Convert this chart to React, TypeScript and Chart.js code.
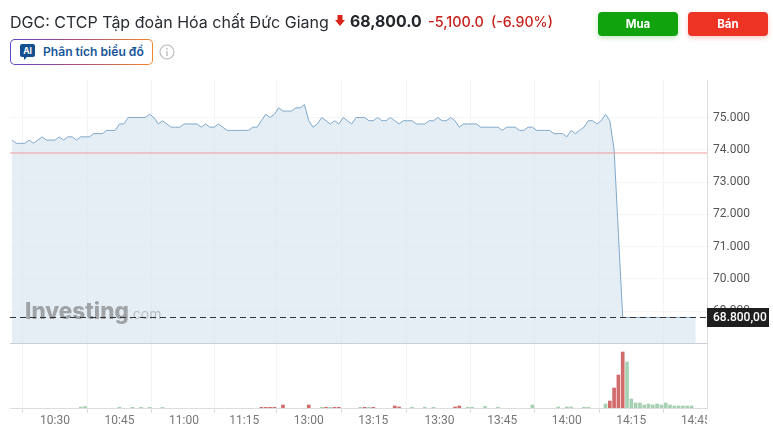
import React, { useEffect, useRef } from "react";
import { Chart, registerables } from "chart.js";

Chart.register(...registerables);

const priceValues = [
  74300, 74200, 74200, 74200, 74300, 74200, 74300, 74400, 74300, 74300,
  74300, 74400, 74300, 74400, 74400, 74300, 74400, 74400, 74400, 74500,
  74500, 74500, 74600, 74600, 74600, 74800, 74800, 75000, 75000, 75000,
  75000, 75000, 75100, 75000, 74800, 74900, 74800, 74700, 74700, 74700,
  74800, 74800, 74800, 74800, 74700, 74800, 74700, 74700, 74800, 74700,
  74600, 74600, 74600, 74600, 74600, 74600, 74700, 74700, 74900, 75100,
  75000, 75100, 75300, 75200, 75200, 75200, 75300, 75300, 75400, 74900,
  74700, 74800, 75000, 74900, 74800, 74900, 74800, 75000, 74900, 74800,
  75000, 75000, 75000, 74900, 74900, 75000, 74900, 74900, 75000, 74900,
  74800, 74900, 74900, 74900, 74800, 74800, 74800, 74900, 74900, 75000,
  74900, 74900, 75000, 74900, 74700, 74800, 74800, 74800, 74800, 74700,
  74700, 74700, 74700, 74700, 74600, 74700, 74700, 74700, 74600, 74600,
  74700, 74700, 74600, 74600, 74600, 74600, 74500, 74500, 74500, 74400,
  74600, 74500, 74600, 74700, 74900, 74900, 74800, 74900, 75100, 74900,
  74000, 71400, 68800, 68800, 68800, 68800, 68800, 68800, 68800, 68800,
  68800, 68800, 68800, 68800, 68800, 68800, 68800, 68800, 68800, 68800,
];

const upVolume: [number, number][] = [
  [16, 1], [17, 1.5], [25, 0.8], [28, 0.7], [30, 0.7], [32, 0.7], [35, 0.6],
  [72, 0.7], [74, 0.7], [81, 0.7], [83, 0.7], [93, 0.8], [96, 0.7], [98, 0.7],
  [106, 0.8], [107, 0.8], [110, 1.5], [113, 0.8], [121, 3], [127, 1], [129, 1],
  [130, 1], [133, 0.8], [134, 0.8], [138, 4], [143, 46], [144, 9], [145, 5],
  [146, 5], [147, 3], [148, 4], [149, 3], [150, 4], [151, 3], [152, 5],
  [153, 3], [154, 2], [155, 2], [156, 2], [157, 2], [158, 2],
];
const downVolume: [number, number][] = [
  [58, 0.7], [59, 0.7], [60, 0.7], [61, 0.7], [63, 3], [69, 3], [73, 0.7],
  [75, 0.7], [76, 0.7], [82, 0.7], [84, 0.7], [89, 2], [90, 1], [103, 1],
  [104, 2], [139, 7], [140, 20], [141, 33], [142, 56],
];

const timeTickIndexes = [10, 25, 40, 54, 69, 84, 99.4, 114, 129, 144, 159];
const timeTickLabels = ["10:30", "10:45", "11:00", "11:15", "13:00", "13:15", "13:30", "13:45", "14:00", "14:15", "14:45"];
const priceTicks = [69000, 70000, 71000, 72000, 73000, 74000, 75000];
const previousClose = 73900;
const lastPrice = 68800;

const fontName = "Inter, 'Noto Sans', sans-serif";

const overlay = {
  id: "overlay",
  afterDatasetDraw(chart: any, args: any) {
    if (args.index !== 0) return;
    const { ctx } = chart;
    ctx.save();
    ctx.textBaseline = "alphabetic";
    ctx.fillStyle = "rgba(125,125,125,0.66)";
    ctx.font = "800 22.5px Inter, sans-serif";
    ctx.fillText("Investing", 25, 319);
    const w = ctx.measureText("Investing").width;
    ctx.fillStyle = "rgba(150,150,150,0.55)";
    ctx.font = "400 14px Inter, sans-serif";
    ctx.fillText(".com", 25 + w, 319);
    ctx.restore();
  },
  afterDraw(chart: any) {
    const { ctx, chartArea, scales } = chart;
    ctx.save();
    // section divider
    ctx.strokeStyle = "#c9ced6";
    ctx.lineWidth = 1;
    ctx.beginPath();
    ctx.moveTo(chartArea.left, Math.round(scales.y.bottom) + 0.5);
    ctx.lineTo(chartArea.right, Math.round(scales.y.bottom) + 0.5);
    ctx.stroke();
    // clipped last time label
    ctx.fillStyle = "#fff";
    ctx.fillRect(chartArea.right, chartArea.bottom + 6, 66, 30);
    // last price tag
    const py = scales.y.getPixelForValue(lastPrice);
    ctx.fillStyle = "#1e1e1e";
    ctx.fillRect(chartArea.right, Math.floor(py) - 9, 62, 19);
    ctx.fillStyle = "#fff";
    ctx.font = "500 12px Roboto, sans-serif";
    ctx.textBaseline = "middle";
    ctx.fillText("68.800,00", chartArea.right + 6, Math.floor(py) + 1);
    ctx.restore();
  },
};

function PriceChart() {
  const ref = useRef<HTMLCanvasElement>(null);
  useEffect(() => {
    const xMin = -0.465;
    const xMax = 161.6;
    const chart = new Chart(ref.current as HTMLCanvasElement, {
      type: "line",
      data: {
        datasets: [
          {
            type: "line",
            data: priceValues.map((v, i) => ({ x: i, y: v })),
            yAxisID: "y",
            borderColor: "#7fa8cb",
            borderWidth: 1,
            backgroundColor: "rgba(214,228,240,0.64)",
            fill: "start",
            pointRadius: 0,
            tension: 0,
            order: 5,
          },
          {
            type: "line",
            data: [{ x: xMin, y: lastPrice }, { x: xMax, y: lastPrice }],
            yAxisID: "y",
            borderColor: "#333",
            borderWidth: 1,
            borderDash: [6, 4],
            pointRadius: 0,
            fill: false,
            order: 1,
          },
          {
            type: "line",
            data: [{ x: xMin, y: previousClose }, { x: xMax, y: previousClose }],
            yAxisID: "y",
            borderColor: "#ee9c9c",
            borderWidth: 1,
            pointRadius: 0,
            fill: false,
            order: 0,
          },
          {
            type: "bar",
            data: upVolume.map(([x, y]) => ({ x, y })),
            yAxisID: "y1",
            backgroundColor: "#a6d0b2",
            barThickness: 3,
            grouped: false,
            order: 3,
          },
          {
            type: "bar",
            data: downVolume.map(([x, y]) => ({ x, y })),
            yAxisID: "y1",
            backgroundColor: "#d26c6c",
            barThickness: 3,
            grouped: false,
            order: 3,
          },
        ],
      } as any,
      options: {
        animation: false,
        responsive: false,
        layout: { padding: { top: 80, left: 10, right: 0, bottom: 0 } },
        plugins: { legend: { display: false }, tooltip: { enabled: false } },
        scales: {
          x: {
            type: "linear",
            min: xMin,
            max: xMax,
            offset: false,
            afterBuildTicks(axis: any) {
              axis.ticks = timeTickIndexes.map((value) => ({ value }));
            },
            afterFit(axis: any) {
              axis.height = 28;
            },
            grid: { color: "#f2f3f4", tickLength: 5, tickColor: "#dddddd" },
            border: { color: "#dddddd" },
            ticks: {
              autoSkip: false,
              maxRotation: 0,
              padding: 1,
              color: "#777777",
              font: { family: "Roboto, sans-serif", size: 12 },
              callback: (v: any) => timeTickLabels[timeTickIndexes.indexOf(Number(v))] ?? "",
            },
          },
          y: {
            type: "linear",
            position: "right",
            stack: "panes",
            stackWeight: 263,
            min: 68009.4,
            max: 76162.6,
            afterBuildTicks(axis: any) {
              axis.ticks = priceTicks.map((value) => ({ value }));
            },
            afterFit(axis: any) {
              axis.width = 66;
            },
            grid: { color: "#f5f5f6", tickLength: 3, tickColor: "#eeeeee" },
            border: { color: "#dddddd" },
            ticks: {
              padding: 3,
              color: "#555555",
              font: { family: "Roboto, sans-serif", size: 12 },
              callback: (v: any) => Number(v).toLocaleString("de-DE", { minimumFractionDigits: 3 }).replace(",000", ""),
            },
          },
          y1: {
            type: "linear",
            position: "right",
            stack: "panes",
            stackWeight: 65,
            min: 0,
            max: 65,
            afterFit(axis: any) {
              axis.width = 66;
            },
            grid: { display: false },
            border: { color: "#dddddd" },
            ticks: { display: false },
          },
        },
      } as any,
      plugins: [overlay],
    });
    return () => chart.destroy();
  }, []);
  return <canvas ref={ref} width={773} height={436} style={{ position: "absolute", left: 0, top: 0, display: "block" }} />;
}

const abs = (left: number, top: number, extra: React.CSSProperties = {}): React.CSSProperties => ({
  position: "absolute",
  left,
  top,
  whiteSpace: "nowrap",
  ...extra,
});

export default function App() {
  return (
    <div style={{ position: "fixed", left: 0, top: 0, width: 773, height: 436, background: "#fff", overflow: "hidden", fontFamily: fontName }}>
      <PriceChart />
      <div style={abs(10, 12, { fontSize: 16, lineHeight: "20px", color: "#2a2e33" })}>DGC: CTCP Tập đoàn Hóa chất Đức Giang</div>
      <svg style={abs(335, 15)} width="10" height="11" viewBox="0 0 10 11">
        <path d="M2.5 0h5v5H10L5 11 0 5h2.5z" fill="#d9231a" />
      </svg>
      <div style={abs(350, 12, { fontSize: 15.8, lineHeight: "20px", fontWeight: 700, color: "#23272c" })}>68,800.0</div>
      <div style={abs(428, 12, { fontSize: 14.4, lineHeight: "20px", fontWeight: 500, color: "#c8201a" })}>-5,100.0</div>
      <div style={abs(491, 12, { fontSize: 14.2, lineHeight: "20px", fontWeight: 500, color: "#c8201a" })}>(-6.90%)</div>
      <div style={abs(598, 12, { width: 80, height: 24, lineHeight: "24px", borderRadius: 4, background: "#10a30d", color: "#fff", fontSize: 11.5, fontWeight: 700, textAlign: "center", boxShadow: "0 2px 5px rgba(16,163,13,.25)" })}>Mua</div>
      <div style={abs(688, 12, { width: 80, height: 24, lineHeight: "24px", borderRadius: 4, background: "#ec3324", color: "#fff", fontSize: 11.5, fontWeight: 700, textAlign: "center", boxShadow: "0 2px 5px rgba(236,51,36,.25)" })}>Bán</div>
      <div style={abs(10, 39, { width: 143, height: 26, borderRadius: 5, padding: 1, boxSizing: "border-box", background: "linear-gradient(90deg,#5b45c9,#b0507a,#ee8a2c)" })}>
        <div style={{ width: "100%", height: "100%", borderRadius: 4, background: "#fff" }} />
      </div>
      <svg style={abs(20, 44)} width="15" height="16" viewBox="0 0 15 16">
        <path d="M2 0h11a2 2 0 0 1 2 2v9a2 2 0 0 1-2 2H7l-3 3v-3H2a2 2 0 0 1-2-2V2a2 2 0 0 1 2-2z" fill="#14508f" />
        <text x="7.5" y="10" textAnchor="middle" fontSize="8.5" fontWeight="700" fill="#fff" fontFamily="Inter, sans-serif">AI</text>
      </svg>
      <div style={abs(43, 44, { fontSize: 12.1, lineHeight: "16px", fontWeight: 600, color: "#17569a" })}>Phân tích biểu đồ</div>
      <svg style={abs(159, 44)} width="16" height="16" viewBox="0 0 16 16">
        <circle cx="8" cy="8" r="7" fill="none" stroke="#bcbcbc" strokeWidth="1.2" />
        <rect x="7.3" y="7" width="1.4" height="5" fill="#bcbcbc" />
        <rect x="7.3" y="4" width="1.4" height="1.6" fill="#bcbcbc" />
      </svg>
    </div>
  );
}
